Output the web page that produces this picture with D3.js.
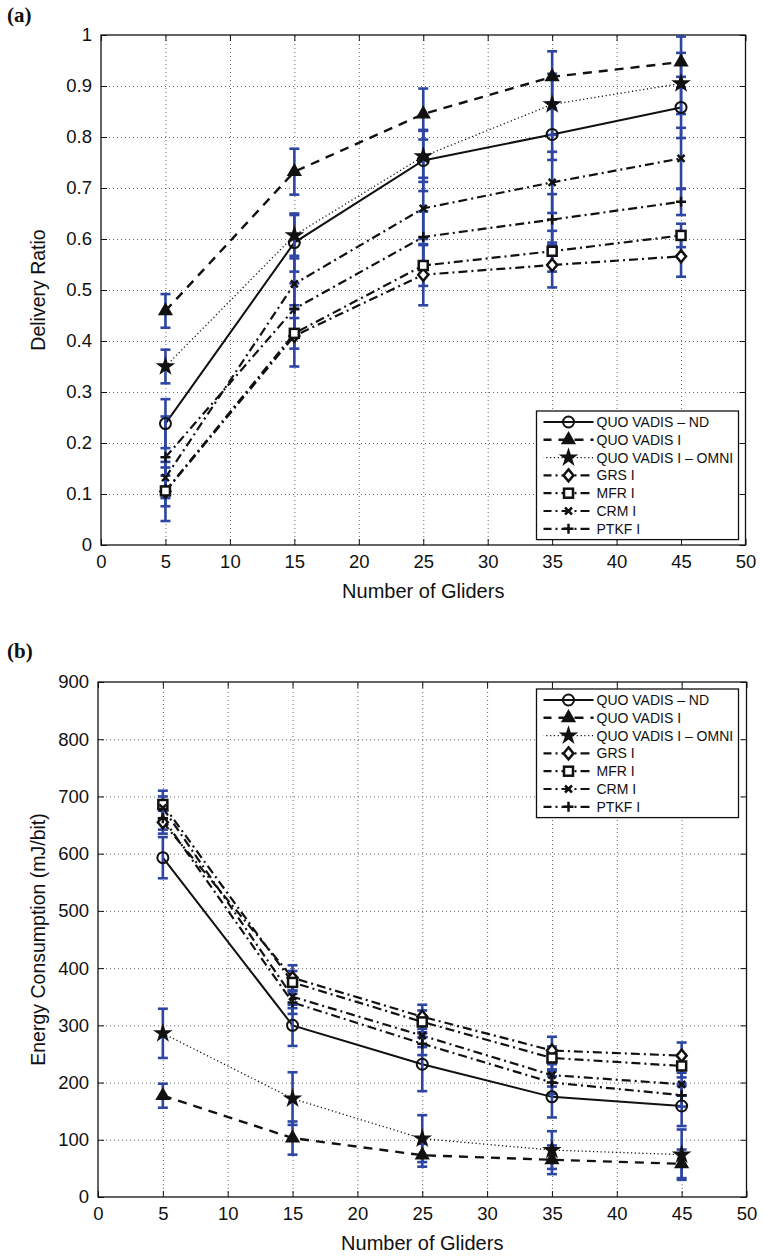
<!DOCTYPE html>
<html>
<head>
<meta charset="utf-8">
<title>Delivery ratio and energy consumption vs number of gliders</title>
<script src="https://cdn.jsdelivr.net/npm/d3@7"></script>
<style>
body { margin: 0; background: #fff; }
text { font-family: "Liberation Sans", Arial, sans-serif; fill: #111; }
.grid line { stroke: #666; stroke-width: 1; stroke-dasharray: 1 3; }
.grid path { display: none; }
.tick-only path { display: none; }
.tick-only line { stroke: #111; stroke-width: 1; }
.labels path { display: none; }
.labels line { stroke: #111; stroke-width: 1; }
.labels text { font-size: 18.5px; }
</style>
</head>
<body>
<script>
// x positions (number of gliders)
var gliders = [5, 15, 25, 35, 45];
var xTicks = [0, 5, 10, 15, 20, 25, 30, 35, 40, 45, 50];

var seriesNames = ["QUO VADIS \u2013 ND", "QUO VADIS I", "QUO VADIS I \u2013 OMNI", "GRS I", "MFR I", "CRM I", "PTKF I"];

// (a) delivery ratio
var ratioTicks = [0, 0.1, 0.2, 0.3, 0.4, 0.5, 0.6, 0.7, 0.8, 0.9, 1];
var ratioND    = [0.238, 0.593, 0.754, 0.805, 0.858];
var ratioI     = [0.459, 0.732, 0.845, 0.918, 0.947];
var ratioOmni  = [0.350, 0.607, 0.762, 0.864, 0.905];
var ratioGRS   = [0.105, 0.410, 0.530, 0.549, 0.566];
var ratioMFR   = [0.106, 0.415, 0.548, 0.576, 0.607];
var ratioCRM   = [0.132, 0.512, 0.660, 0.711, 0.758];
var ratioPTKF  = [0.172, 0.463, 0.604, 0.638, 0.673];
var ratioErrND   = [0.048, 0.057, 0.060, 0.050, 0.060];
var ratioErrI    = [0.033, 0.045, 0.050, 0.050, 0.050];
var ratioErrOmni = [0.033, 0.040, 0.050, 0.060, 0.060];
var ratioErrGRS  = [0.058, 0.060, 0.060, 0.044, 0.040];
var ratioErrMFR  = [0.030, 0.030, 0.040, 0.040, 0.023];
var ratioErrCRM  = [0.020, 0.050, 0.060, 0.060, 0.060];
var ratioErrPTKF = [0.080, 0.050, 0.050, 0.050, 0.026];

// (b) energy consumption (mJ/bit)
var energyTicks = [0, 100, 200, 300, 400, 500, 600, 700, 800, 900];
var energyND    = [593, 300, 232, 175, 159];
var energyI     = [177, 103, 73, 65, 58];
var energyOmni  = [286, 172, 102, 82, 74];
var energyGRS   = [655, 383, 315, 256, 247];
var energyMFR   = [686, 375, 306, 243, 229];
var energyCRM   = [680, 350, 282, 213, 197];
var energyPTKF  = [662, 340, 268, 200, 178];
var energyErrND   = [36, 36, 47, 36, 35];
var energyErrI    = [21, 29, 20, 25, 25];
var energyErrOmni = [43, 46, 41, 33, 44];
var energyErrGRS  = [20, 22, 21, 24, 23];
var energyErrMFR  = [24, 20, 20, 20, 20];
var energyErrCRM  = [20, 20, 20, 20, 20];
var energyErrPTKF = [20, 20, 20, 20, 20];

// drawing styles per series
var seriesDash   = [null, "9 7", "1.2 2.6", "9 4 2 4", "9 4 2 4", "9 4 2 4", "9 4 2 4"];
var seriesWidth  = [2, 2.4, 1.3, 2.2, 2.2, 2.2, 2.2];
var seriesMarker = ["circle", "triangle", "star", "diamond", "square", "x", "plus"];
var errColor = "#2e45a3";

var svg = d3.select("body").append("svg")
    .attr("width", 765)
    .attr("height", 1260);

function drawMarker(g, type, cx, cy) {
  var m = g.append("g").attr("transform", "translate(" + cx + "," + cy + ")");
  if (type == "circle") {
    m.append("circle").attr("r", 5.5).attr("fill", "none").attr("stroke", "#111").attr("stroke-width", 2);
  } else if (type == "triangle") {
    m.append("path").attr("d", d3.symbol(d3.symbolTriangle, 100)()).attr("fill", "#111");
  } else if (type == "star") {
    m.append("path").attr("d", d3.symbol(d3.symbolStar, 120)()).attr("fill", "#111");
  } else if (type == "diamond") {
    m.append("path").attr("d", "M0,-6L5,0L0,6L-5,0Z").attr("fill", "#fff").attr("stroke", "#111").attr("stroke-width", 2.5);
  } else if (type == "square") {
    m.append("rect").attr("x", -4.5).attr("y", -4.5).attr("width", 9).attr("height", 9)
        .attr("fill", "#fff").attr("stroke", "#111").attr("stroke-width", 2.5);
  } else if (type == "x") {
    m.append("path").attr("d", "M-3.5,-3.5L3.5,3.5M-3.5,3.5L3.5,-3.5").attr("stroke", "#111").attr("stroke-width", 2.5);
  } else {
    m.append("path").attr("d", "M-5,0L5,0M0,-5L0,5").attr("stroke", "#111").attr("stroke-width", 2.5);
  }
}

function panel(opt) {
  var x = d3.scaleLinear().domain([0, 50]).range([opt.left, opt.right]);
  var y = d3.scaleLinear().domain(opt.domain).range([opt.bottom, opt.top]);
  var w = opt.right - opt.left, h = opt.bottom - opt.top;

  // dotted grid
  svg.append("g").attr("class", "grid")
      .attr("transform", "translate(0," + opt.bottom + ")")
      .call(d3.axisBottom(x).tickValues(xTicks.slice(1, -1)).tickSize(-h).tickFormat(""));
  svg.append("g").attr("class", "grid")
      .attr("transform", "translate(" + opt.left + ",0)")
      .call(d3.axisLeft(y).tickValues(opt.ticks.slice(1, -1)).tickSize(-w).tickFormat(""));

  // axes with inward ticks
  svg.append("g").attr("class", "labels")
      .attr("transform", "translate(0," + opt.bottom + ")")
      .call(d3.axisBottom(x).tickValues(xTicks).tickSizeInner(-6).tickSizeOuter(0).tickPadding(10));
  svg.append("g").attr("class", "labels")
      .attr("transform", "translate(" + opt.left + ",0)")
      .call(d3.axisLeft(y).tickValues(opt.ticks).tickSizeInner(-6).tickSizeOuter(0).tickPadding(9).tickFormat(opt.format));
  svg.append("g").attr("class", "tick-only")
      .attr("transform", "translate(0," + opt.top + ")")
      .call(d3.axisTop(x).tickValues(xTicks).tickSizeInner(-6).tickSizeOuter(0).tickFormat(""));
  svg.append("g").attr("class", "tick-only")
      .attr("transform", "translate(" + opt.right + ",0)")
      .call(d3.axisRight(y).tickValues(opt.ticks).tickSizeInner(-6).tickSizeOuter(0).tickFormat(""));

  svg.append("rect")
      .attr("x", opt.left).attr("y", opt.top)
      .attr("width", w).attr("height", h)
      .attr("fill", "none").attr("stroke", "#111").attr("stroke-width", 1.3);

  var line = d3.line()
      .x(function(d) { return x(d.x); })
      .y(function(d) { return y(d.y); });

  var data = opt.values.map(function(vals, i) {
    return gliders.map(function(g, j) { return {x: g, y: vals[j], e: opt.errors[i][j]}; });
  });

  // lines
  data.forEach(function(pts, i) {
    svg.append("path")
        .datum(pts)
        .attr("d", line)
        .attr("fill", "none")
        .attr("stroke", "#111")
        .attr("stroke-width", seriesWidth[i])
        .attr("stroke-dasharray", seriesDash[i]);
  });

  // error bars
  var eb = svg.append("g").attr("stroke", errColor).attr("stroke-width", 2.6);
  data.forEach(function(pts) {
    pts.forEach(function(d) {
      var y0 = y(Math.min(d.y + d.e, opt.domain[1])), y1 = y(d.y - d.e), cx = x(d.x);
      eb.append("line").attr("x1", cx).attr("x2", cx).attr("y1", y0).attr("y2", y1);
      eb.append("line").attr("x1", cx - 5).attr("x2", cx + 5).attr("y1", y0).attr("y2", y0);
      eb.append("line").attr("x1", cx - 5).attr("x2", cx + 5).attr("y1", y1).attr("y2", y1);
    });
  });

  // markers
  var mk = svg.append("g");
  data.forEach(function(pts, i) {
    pts.forEach(function(d) { drawMarker(mk, seriesMarker[i], x(d.x), y(d.y)); });
  });

  // legend
  var lg = svg.append("g").attr("transform", "translate(" + opt.legend[0] + "," + opt.legend[1] + ")");
  var rowH = 17.8;
  lg.append("rect")
      .attr("width", 202).attr("height", rowH * 7 + 4)
      .attr("fill", "#fff").attr("stroke", "#111").attr("stroke-width", 1.3);
  seriesNames.forEach(function(name, i) {
    var ry = 11 + i * rowH;
    lg.append("line")
        .attr("x1", 7).attr("x2", 57).attr("y1", ry).attr("y2", ry)
        .attr("stroke", "#111")
        .attr("stroke-width", seriesWidth[i])
        .attr("stroke-dasharray", seriesDash[i])
        .attr("stroke-dashoffset", seriesDash[i] ? 1 : 0);
    drawMarker(lg, seriesMarker[i], 32, ry);
    lg.append("text")
        .attr("x", 60).attr("y", ry)
        .attr("dy", "0.36em")
        .style("font-size", "14px")
        .text(name);
  });

  svg.append("text")
      .attr("x", (opt.left + opt.right) / 2)
      .attr("y", opt.bottom + 53)
      .style("text-anchor", "middle")
      .style("font-size", "20px")
      .text("Number of Gliders");

  svg.append("text")
      .attr("transform", "translate(45," + (opt.top + opt.bottom) / 2 + ") rotate(-90)")
      .style("text-anchor", "middle")
      .style("font-size", "19.5px")
      .text(opt.ylabel);

  svg.append("text")
      .attr("x", 7).attr("y", opt.tag)
      .style("font-family", "'Liberation Serif', 'DejaVu Serif', serif")
      .style("font-weight", "bold")
      .style("font-size", "21px")
      .text(opt.label);
}

panel({
  label: "(a)", tag: 22,
  left: 101, right: 745.5, top: 35, bottom: 545,
  domain: [0, 1], ticks: ratioTicks,
  format: function(d) { return (d == 0 || d == 1) ? String(d) : d.toFixed(1); },
  ylabel: "Delivery Ratio",
  values: [ratioND, ratioI, ratioOmni, ratioGRS, ratioMFR, ratioCRM, ratioPTKF],
  errors: [ratioErrND, ratioErrI, ratioErrOmni, ratioErrGRS, ratioErrMFR, ratioErrCRM, ratioErrPTKF],
  legend: [536.5, 411]
});

panel({
  label: "(b)", tag: 658,
  left: 98, right: 746.5, top: 682, bottom: 1197,
  domain: [0, 900], ticks: energyTicks,
  format: function(d) { return String(d); },
  ylabel: "Energy Consumption (mJ/bit)",
  values: [energyND, energyI, energyOmni, energyGRS, energyMFR, energyCRM, energyPTKF],
  errors: [energyErrND, energyErrI, energyErrOmni, energyErrGRS, energyErrMFR, energyErrCRM, energyErrPTKF],
  legend: [536.5, 689]
});
</script>
</body>
</html>
